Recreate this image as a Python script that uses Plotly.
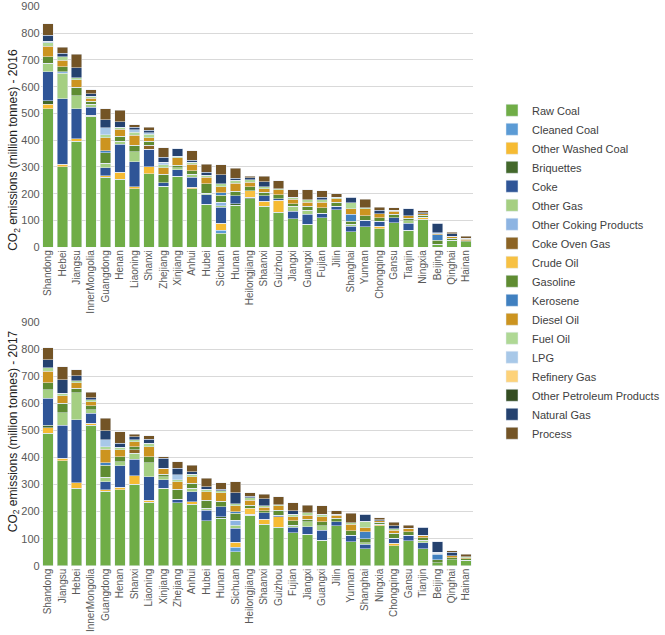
import plotly.graph_objects as go

provinces_2016 = ["Shandong", "Hebei", "Jiangsu", "InnerMongolia", "Guangdong", "Henan", "Liaoning",
                  "Shanxi", "Zhejiang", "Xinjiang", "Anhui", "Hubei", "Sichuan", "Hunan", "Heilongjiang",
                  "Shaanxi", "Guizhou", "Jiangxi", "Guangxi", "Fujian", "Jilin", "Shanghai", "Yunnan",
                  "Chongqing", "Gansu", "Tianjin", "Ningxia", "Beijing", "Qinghai", "Hainan"]
provinces_2017 = ["Shandong", "Jiangsu", "Hebei", "InnerMongolia", "Guangdong", "Henan", "Shanxi",
                  "Liaoning", "Xinjiang", "Zhejiang", "Anhui", "Hubei", "Hunan", "Sichuan", "Heilongjiang",
                  "Shaanxi", "Guizhou", "Fujian", "Jiangxi", "Guangxi", "Jilin", "Yunnan", "Shanghai",
                  "Ningxia", "Chongqing", "Gansu", "Tianjin", "Beijing", "Qinghai", "Hainan"]

fuel_types = ["Raw Coal", "Cleaned Coal", "Other Washed Coal", "Briquettes", "Coke", "Other Gas",
              "Other Coking Products", "Coke Oven Gas", "Crude Oil", "Gasoline", "Kerosene", "Diesel Oil",
              "Fuel Oil", "LPG", "Refinery Gas", "Other Petroleum Products", "Natural Gas", "Process"]
colors = ["#70AD47", "#5B9BD5", "#F6BB33", "#43682B", "#2F5597", "#A5CF82",
          "#8DB4E2", "#8C6425", "#F7C143", "#5F8C32", "#4080C0", "#CC9420",
          "#AFD895", "#A8C8E8", "#FDD27A", "#344D22", "#25426F", "#735426"]

# 2016 (million tonnes), order of provinces_2016
raw_coal_2016 = [517, 301, 397, 490, 261, 255, 218, 274, 228, 265, 218, 160, 52, 157, 181, 153, 131, 107, 86, 111, 141, 58, 76, 70, 91, 64, 105, 12, 27, 21]
cleaned_coal_2016 = [0, 0, 0, 0, 0, 0, 0, 0, 0, 0, 0, 0, 12, 0, 0, 0, 0, 0, 0, 0, 0, 0, 0, 0, 0, 0, 0, 0, 0, 0]
other_washed_2016 = [18, 10, 9, 3, 7, 25, 9, 27, 0, 0, 6, 0, 25, 0, 0, 18, 44, 0, 0, 0, 0, 0, 0, 9, 0, 0, 8, 0, 0, 0]
briquettes_2016 = [12, 0, 0, 0, 0, 0, 0, 0, 0, 0, 0, 0, 0, 5, 6, 0, 0, 0, 0, 0, 0, 0, 0, 0, 0, 0, 0, 0, 0, 0]
coke_2016 = [109, 244, 111, 30, 30, 105, 93, 65, 13, 24, 37, 36, 61, 30, 0, 22, 6, 27, 37, 17, 12, 21, 25, 18, 19, 25, 0, 0, 0, 0]
other_gas_2016 = [31, 95, 49, 12, 15, 12, 36, 0, 0, 8, 12, 6, 6, 0, 0, 0, 0, 19, 15, 0, 0, 7, 0, 0, 0, 10, 0, 0, 0, 0]
other_coking_2016 = [0, 6, 0, 0, 0, 0, 0, 0, 0, 0, 0, 0, 13, 0, 0, 0, 0, 0, 0, 0, 0, 0, 0, 0, 0, 0, 0, 0, 0, 0]
coke_oven_gas_2016 = [0, 0, 0, 0, 0, 0, 0, 16, 0, 0, 0, 0, 0, 0, 0, 0, 0, 0, 0, 0, 0, 0, 0, 0, 0, 0, 0, 0, 0, 0]
crude_oil_2016 = [0, 0, 0, 0, 0, 0, 0, 0, 0, 0, 0, 0, 0, 0, 25, 0, 0, 0, 0, 0, 0, 0, 0, 0, 0, 0, 0, 0, 0, 0]
gasoline_2016 = [24, 18, 31, 10, 41, 18, 25, 15, 32, 10, 13, 35, 25, 18, 15, 12, 16, 10, 15, 20, 16, 12, 16, 14, 13, 9, 6, 15, 6, 4]
kerosene_2016 = [0, 0, 0, 0, 6, 0, 0, 0, 0, 0, 0, 0, 9, 0, 0, 0, 0, 0, 0, 0, 0, 25, 0, 0, 0, 0, 0, 19, 0, 0]
diesel_2016 = [40, 25, 28, 12, 49, 25, 37, 13, 25, 28, 25, 24, 24, 30, 16, 14, 17, 16, 16, 21, 12, 21, 27, 15, 11, 9, 7, 5, 8, 5]
fuel_oil_2016 = [13, 12, 9, 8, 12, 9, 12, 12, 10, 5, 6, 8, 10, 10, 10, 8, 5, 8, 9, 9, 6, 22, 4, 0, 4, 0, 0, 0, 0, 4]
lpg_2016 = [5, 0, 0, 0, 25, 0, 9, 6, 10, 0, 0, 0, 0, 0, 0, 0, 0, 0, 0, 0, 0, 0, 0, 0, 0, 0, 0, 3, 0, 0]
refinery_gas_2016 = [0, 0, 0, 0, 0, 0, 0, 0, 0, 0, 0, 0, 0, 0, 0, 0, 0, 0, 0, 0, 0, 0, 0, 0, 0, 0, 0, 0, 0, 0]
other_petroleum_2016 = [0, 0, 0, 0, 0, 0, 0, 0, 0, 0, 0, 0, 0, 0, 0, 0, 0, 0, 0, 0, 0, 0, 0, 0, 0, 0, 0, 0, 0, 0]
natural_gas_2016 = [23, 13, 37, 8, 31, 20, 9, 9, 18, 28, 9, 12, 33, 8, 6, 18, 0, 0, 0, 9, 0, 21, 0, 12, 0, 26, 3, 35, 10, 0]
process_2016 = [43, 24, 50, 15, 41, 43, 10, 11, 36, 0, 34, 30, 38, 38, 7, 21, 29, 28, 37, 25, 13, 0, 32, 12, 10, 0, 7, 0, 6, 8]

# 2017 (million tonnes), order of provinces_2017
raw_coal_2017 = [490, 388, 286, 520, 276, 280, 302, 234, 286, 233, 228, 166, 175, 52, 187, 154, 142, 122, 117, 95, 147, 89, 62, 147, 73, 92, 62, 11, 23, 21]
cleaned_coal_2017 = [0, 0, 0, 0, 0, 0, 0, 0, 0, 0, 0, 0, 0, 16, 0, 0, 0, 0, 0, 0, 0, 0, 0, 0, 0, 0, 0, 0, 0, 0]
other_washed_2017 = [20, 9, 21, 7, 4, 10, 30, 9, 0, 0, 9, 0, 0, 18, 0, 17, 39, 0, 0, 0, 0, 0, 0, 7, 10, 0, 0, 0, 0, 0]
briquettes_2017 = [10, 0, 0, 0, 0, 0, 0, 0, 0, 0, 0, 0, 6, 0, 3, 0, 0, 0, 0, 0, 0, 0, 0, 0, 0, 0, 0, 0, 0, 0]
coke_2017 = [99, 122, 232, 37, 31, 79, 61, 86, 31, 12, 37, 40, 37, 52, 0, 25, 6, 20, 27, 37, 16, 24, 18, 0, 18, 21, 23, 0, 0, 0]
other_gas_2017 = [31, 47, 101, 12, 16, 16, 22, 52, 12, 0, 13, 6, 0, 12, 0, 0, 0, 8, 19, 15, 0, 0, 5, 0, 0, 0, 10, 0, 0, 0]
other_coking_2017 = [0, 0, 0, 0, 0, 0, 0, 0, 0, 0, 0, 0, 0, 19, 0, 0, 0, 0, 0, 0, 0, 0, 0, 0, 0, 0, 0, 0, 0, 0]
coke_oven_gas_2017 = [0, 0, 0, 0, 0, 0, 13, 0, 0, 0, 0, 0, 0, 0, 0, 0, 0, 0, 0, 0, 0, 0, 0, 0, 0, 0, 0, 0, 0, 0]
crude_oil_2017 = [0, 0, 0, 0, 0, 0, 0, 0, 0, 0, 0, 0, 0, 0, 22, 0, 0, 0, 0, 0, 0, 0, 0, 0, 0, 0, 0, 0, 0, 0]
gasoline_2017 = [27, 34, 16, 15, 45, 18, 12, 22, 9, 37, 18, 31, 20, 25, 12, 8, 18, 16, 8, 16, 12, 16, 14, 6, 19, 12, 9, 12, 6, 4]
kerosene_2017 = [0, 0, 0, 0, 9, 0, 0, 0, 0, 0, 0, 0, 0, 6, 0, 0, 0, 0, 0, 0, 0, 0, 26, 0, 0, 0, 0, 20, 0, 0]
diesel_2017 = [43, 28, 21, 16, 49, 25, 19, 37, 22, 28, 24, 31, 31, 21, 18, 12, 16, 15, 16, 18, 12, 25, 16, 6, 12, 12, 9, 4, 8, 5]
fuel_oil_2017 = [12, 9, 7, 7, 10, 10, 6, 13, 0, 8, 9, 8, 8, 8, 10, 6, 4, 10, 9, 10, 3, 5, 24, 0, 5, 1, 0, 0, 0, 4]
lpg_2017 = [0, 0, 0, 0, 25, 0, 0, 0, 0, 18, 0, 0, 0, 0, 0, 0, 0, 0, 0, 0, 0, 0, 0, 0, 0, 0, 0, 2, 0, 0]
refinery_gas_2017 = [0, 0, 0, 0, 0, 0, 0, 0, 0, 0, 0, 0, 0, 0, 0, 0, 0, 0, 0, 0, 0, 0, 0, 0, 0, 0, 0, 0, 0, 0]
other_petroleum_2017 = [0, 0, 0, 0, 0, 0, 0, 0, 0, 0, 0, 0, 0, 0, 0, 0, 0, 0, 0, 0, 0, 0, 0, 0, 0, 0, 0, 0, 0, 0]
natural_gas_2017 = [29, 50, 18, 8, 34, 15, 12, 14, 37, 25, 10, 10, 5, 40, 5, 25, 0, 12, 0, 0, 0, 0, 26, 4, 10, 0, 29, 40, 12, 0]
process_2017 = [45, 49, 22, 20, 46, 43, 10, 13, 6, 24, 24, 31, 25, 42, 13, 17, 30, 30, 28, 30, 13, 35, 0, 8, 13, 12, 0, 0, 6, 9]

values_2016 = [raw_coal_2016, cleaned_coal_2016, other_washed_2016, briquettes_2016, coke_2016,
               other_gas_2016, other_coking_2016, coke_oven_gas_2016, crude_oil_2016, gasoline_2016,
               kerosene_2016, diesel_2016, fuel_oil_2016, lpg_2016, refinery_gas_2016,
               other_petroleum_2016, natural_gas_2016, process_2016]
values_2017 = [raw_coal_2017, cleaned_coal_2017, other_washed_2017, briquettes_2017, coke_2017,
               other_gas_2017, other_coking_2017, coke_oven_gas_2017, crude_oil_2017, gasoline_2017,
               kerosene_2017, diesel_2017, fuel_oil_2017, lpg_2017, refinery_gas_2017,
               other_petroleum_2017, natural_gas_2017, process_2017]

fig = go.Figure()
for i, name in enumerate(fuel_types):
    fig.add_trace(go.Bar(x=provinces_2016, y=values_2016[i], name=name, marker_color=colors[i],
                         legendgroup=name, xaxis="x", yaxis="y"))
    fig.add_trace(go.Bar(x=provinces_2017, y=values_2017[i], name=name, marker_color=colors[i],
                         legendgroup=name, showlegend=False, xaxis="x2", yaxis="y2"))

tick_font = dict(family="Liberation Sans", size=10, color="#595959")
yaxis_style = dict(range=[0, 900], dtick=100, gridcolor="#D9D9D9", gridwidth=1, zeroline=False,
                   showline=False, ticks="", automargin=False,
                   tickfont=dict(family="Liberation Sans", size=11, color="#595959"))
xaxis_style = dict(type="category", tickangle=-90, tickfont=tick_font, showline=False, ticks="",
                   showgrid=False, automargin=False)

fig.update_layout(
    width=665, height=635,
    margin=dict(l=0, r=0, t=0, b=0),
    paper_bgcolor="white", plot_bgcolor="white",
    barmode="stack", bargap=0.27,
    font=dict(family="Liberation Sans", color="#404040"),
    xaxis=dict(domain=[0.0639, 0.7444], anchor="y", **xaxis_style),
    yaxis=dict(domain=[0.6106, 0.990], anchor="x", **yaxis_style),
    xaxis2=dict(domain=[0.0639, 0.7444], anchor="y2", **xaxis_style),
    yaxis2=dict(domain=[0.1091, 0.4924], anchor="x2", **yaxis_style),
    legend=dict(x=0.774, y=0.572, xanchor="left", yanchor="middle", traceorder="normal",
                font=dict(family="Liberation Sans", size=11, color="#404040"),
                bgcolor="rgba(0,0,0,0)"),
    annotations=[
        dict(text="CO<sub>2</sub> emissions (million tonnes) - 2016", x=0.022, y=0.764,
             xref="paper", yref="paper", textangle=-90, showarrow=False,
             xanchor="center", yanchor="middle",
             font=dict(family="Liberation Sans", size=12, color="#222222")),
        dict(text="CO<sub>2</sub> emissions (million tonnes) - 2017", x=0.022, y=0.321,
             xref="paper", yref="paper", textangle=-90, showarrow=False,
             xanchor="center", yanchor="middle",
             font=dict(family="Liberation Sans", size=12, color="#222222")),
    ],
)

# the page's default 8px body margin would shift the figure, so drop it
fig.write_html("out.html", config={"displayModeBar": False},
               post_script="document.body.style.margin = '0';")
